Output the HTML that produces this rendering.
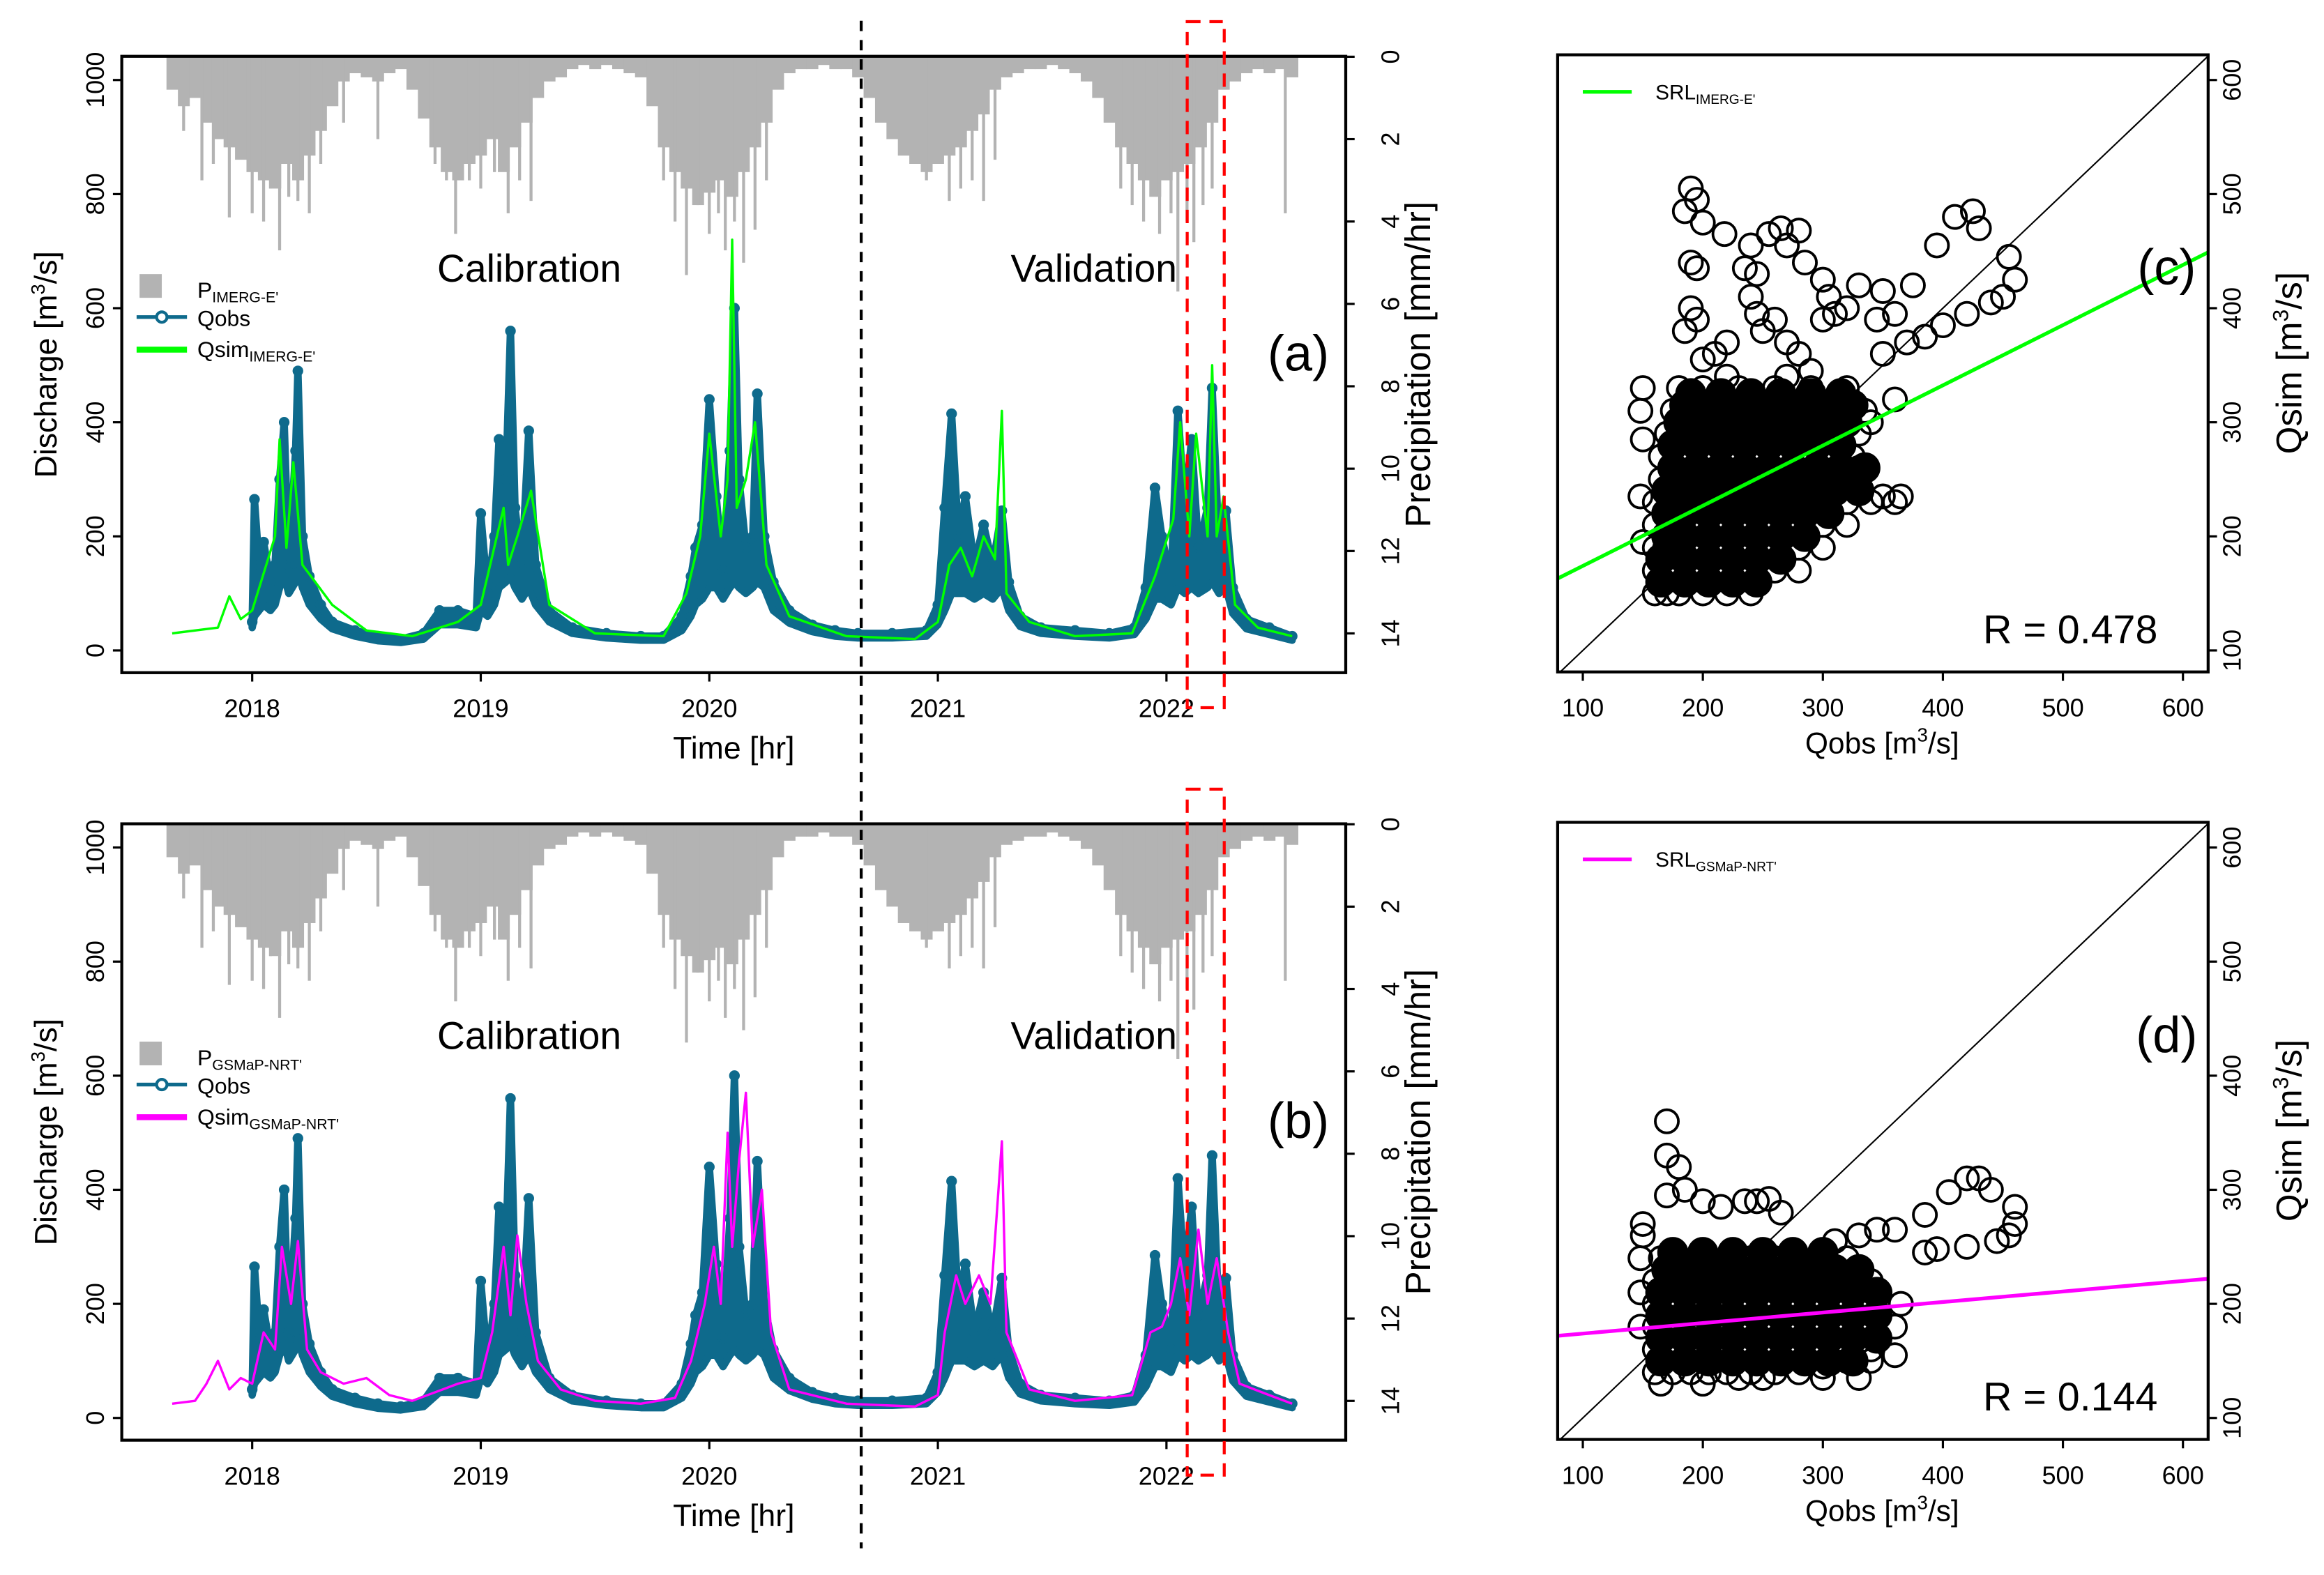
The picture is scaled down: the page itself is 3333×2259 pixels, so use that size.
<!DOCTYPE html>
<html><head><meta charset="utf-8"><style>
html,body{margin:0;padding:0;background:#fff}
svg{display:block;font-family:"Liberation Sans",sans-serif}
</style></head><body>
<svg id="fig" xmlns="http://www.w3.org/2000/svg" width="3333" height="2259" viewBox="0 0 1568 1063">
<rect width="1568" height="1063" fill="#fff"/>
<g id="layer"></g>
</svg>
<script>
// ---------- data ----------
const precipStart = 2017.65;
const precipStep = 0.05;
const precipBase = [0.8,1.2,1.0,1.6,2.0,2.2,2.5,
 2.8,3.0,3.2,2.6,3.0,2.4,1.8,1.2,0.6,0.4,
 0.5,0.6,0.4,0.3,0.8,
 1.5,2.2,2.8,3.0,2.6,2.4,2.0,2.8,2.2,1.6,1.0,
 0.6,0.5,0.3,0.2,0.3,0.2,0.3,0.4,0.5,
 1.2,2.2,2.8,3.2,3.6,3.3,3.0,3.4,2.8,2.2,1.6,0.8,
 0.4,0.3,0.3,0.2,0.3,0.3,0.5,
 1.0,1.6,2.0,2.4,2.6,2.8,2.6,2.4,2.2,1.8,1.4,0.8,
 0.5,0.4,0.3,0.3,0.2,0.3,0.4,0.6,
 1.0,1.6,2.2,2.6,3.0,3.4,3.0,2.8,2.6,2.2,1.6,0.8,
 0.6,0.4,0.3,0.4,0.3,0.5];
const spikeYears = [2017.7,2017.78,2017.83,2017.9,2018.0,2018.05,2018.08,2018.12,2018.16,2018.2,2018.25,2018.3,2018.4,2018.55,2018.8,2018.85,2018.89,2018.95,2019.0,2019.06,2019.12,2019.17,2019.22,2019.8,2019.85,2019.9,2019.95,2020.0,2020.04,2020.07,2020.11,2020.15,2020.2,2020.25,2020.95,2021.05,2021.1,2021.15,2021.2,2021.25,2021.8,2021.85,2021.9,2021.97,2022.02,2022.05,2022.09,2022.12,2022.16,2022.2,2022.52];
const spikeDepths = [1.8,3.0,2.6,3.9,3.8,4.0,3.2,4.7,3.4,3.5,3.8,2.6,1.6,2.0,2.6,3.0,4.3,3.0,3.2,2.8,3.8,3.0,3.5,3.0,4.0,5.3,3.6,4.3,3.8,4.7,4.0,5.0,4.2,3.0,3.0,3.5,3.2,3.0,3.5,2.5,3.2,3.6,4.0,4.3,3.8,5.7,4.0,4.5,3.6,3.2,3.8];

const obsYears = [2018.00,2018.01,2018.03,2018.05,2018.08,2018.10,2018.12,2018.14,2018.16,2018.19,2018.20,2018.22,2018.25,2018.30,2018.35,2018.45,2018.55,2018.65,2018.75,2018.82,2018.90,2018.98,2019.00,2019.03,2019.06,2019.08,2019.11,2019.13,2019.15,2019.18,2019.21,2019.24,2019.30,2019.40,2019.55,2019.70,2019.80,2019.88,2019.92,2019.94,2019.97,2020.00,2020.03,2020.06,2020.09,2020.11,2020.13,2020.16,2020.19,2020.21,2020.24,2020.28,2020.35,2020.45,2020.55,2020.65,2020.80,2020.95,2021.00,2021.03,2021.06,2021.09,2021.12,2021.16,2021.20,2021.24,2021.28,2021.31,2021.36,2021.45,2021.60,2021.75,2021.86,2021.91,2021.95,2021.98,2022.02,2022.05,2022.08,2022.11,2022.14,2022.18,2022.20,2022.23,2022.26,2022.29,2022.35,2022.45,2022.55];
const obsValues = [50,265,150,190,120,150,300,400,150,350,490,200,130,80,50,35,25,20,30,70,70,60,240,100,200,370,300,560,250,150,385,150,70,40,30,25,25,60,130,180,220,440,270,140,350,600,300,180,200,450,200,120,70,45,35,30,30,35,80,250,415,200,270,150,220,150,245,120,60,40,35,30,40,110,285,200,120,420,250,370,180,250,460,180,245,110,55,40,25];
const obsLow = [40,60,70,80,70,80,110,130,100,120,140,110,80,55,38,25,17,14,20,45,45,40,70,60,80,110,120,130,110,90,110,80,50,30,22,18,18,35,60,80,90,110,110,90,110,120,110,100,110,120,110,70,48,33,25,22,22,25,45,70,100,100,100,90,100,90,110,70,42,30,25,22,28,55,90,90,80,110,100,110,100,110,120,100,110,65,38,28,18];

const simAYears = [2017.65,2017.85,2017.9,2017.95,2018.0,2018.1,2018.12,2018.15,2018.18,2018.22,2018.35,2018.5,2018.7,2018.9,2019.0,2019.1,2019.12,2019.16,2019.22,2019.3,2019.5,2019.8,2019.9,2019.96,2020.0,2020.05,2020.08,2020.1,2020.12,2020.16,2020.2,2020.25,2020.35,2020.6,2020.9,2021.0,2021.05,2021.1,2021.15,2021.2,2021.25,2021.28,2021.3,2021.4,2021.6,2021.85,2021.95,2022.03,2022.06,2022.1,2022.13,2022.18,2022.2,2022.22,2022.25,2022.3,2022.4,2022.55];
const simAValues = [30,40,95,55,70,200,370,180,330,150,80,35,25,50,80,250,150,200,280,80,30,25,100,200,380,200,300,720,250,300,400,150,60,25,20,50,150,180,130,200,160,420,100,50,25,30,130,230,400,200,380,200,500,200,270,80,40,25];

const simBYears = [2017.65,2017.75,2017.8,2017.85,2017.9,2017.95,2018.0,2018.05,2018.1,2018.13,2018.17,2018.2,2018.24,2018.3,2018.4,2018.5,2018.6,2018.7,2018.8,2018.9,2019.0,2019.05,2019.1,2019.13,2019.16,2019.2,2019.25,2019.35,2019.5,2019.7,2019.85,2019.92,2019.98,2020.02,2020.05,2020.08,2020.1,2020.13,2020.16,2020.19,2020.23,2020.27,2020.35,2020.6,2020.9,2021.0,2021.03,2021.08,2021.12,2021.18,2021.23,2021.28,2021.3,2021.4,2021.6,2021.85,2021.93,2021.98,2022.02,2022.06,2022.1,2022.14,2022.18,2022.22,2022.27,2022.32,2022.45,2022.55];
const simBValues = [25,30,60,100,50,70,60,150,120,300,200,310,120,80,60,70,40,30,45,60,70,150,300,180,320,200,100,50,30,25,35,100,200,300,200,500,300,450,570,300,400,150,50,25,20,40,150,250,200,250,200,485,150,50,30,40,150,160,200,280,180,330,200,280,150,60,40,25];

const scatCObs = [160,170,180,200,220,240, 160,180,200,220,240,260,280, 160,180,200,220,240,260,280,300, 160,180,200,220,240,260,280,300,320, 160,180,200,220,240,260,280,300,320,340,360, 165,185,205,225,245,265,285,305,325, 165,185,205,225,245,265,285,305,325, 170,190,210,230,250,270,290,310,330, 175,195,215,235,255,275,295,315,335, 180,200,230,260,290,320,
 150,148,150,148,150,190,195,185,200,218,190,195,190,195,185,240,235,245,240,245,255,265,270,280,285,300,305,330,350,360,375,395,410,425,430,455,460,450,440,420,400,385,370,350,300,310,320,345,260,250,270,280,220,210,200,270,290,360,340,350,365,330,200,220];
const scatCSim = [150,150,150,150,150,150, 170,170,170,170,170,170,170, 190,190,190,190,190,190,190,190, 210,210,210,210,210,210,210,210,210, 230,230,230,230,230,230,230,230,230,230,230, 250,250,250,250,250,250,250,250,250, 270,270,270,270,270,270,270,270,270, 290,290,290,290,290,290,290,290,290, 310,310,310,310,310,310,310,310,310, 330,330,330,330,330,330,
 330,310,285,235,195,505,495,485,475,465,440,435,400,390,380,455,435,430,410,395,465,470,455,468,440,425,410,420,415,395,420,455,480,485,470,445,425,410,405,395,385,375,370,360,390,395,400,390,390,380,370,360,370,360,355,340,345,320,300,235,235,260,330,340];
const scatCCoreObs = [165,185,205,225,245, 165,185,205,225,245,265, 170,185,205,225,245,265,285, 170,185,205,225,245,265,285,305, 170,190,210,230,250,270,290,310,330, 175,195,215,235,255,275,295,315,335, 175,195,215,235,255,275,295,315, 180,200,220,240,260,280,300,320, 185,205,225,245,265,285,305,325, 190,215,240,265,290,315];
const scatCCoreSim = [160,160,160,160,160, 180,180,180,180,180,180, 200,200,200,200,200,200,200, 220,220,220,220,220,220,220,220, 240,240,240,240,240,240,240,240,240, 260,260,260,260,260,260,260,260,260, 280,280,280,280,280,280,280,280, 300,300,300,300,300,300,300,300, 315,315,315,315,315,315,315,315, 325,325,325,325,325,325];

const scatDObs = [160,175,190,205,220,240,260,280,300,320,340,360, 160,175,190,205,220,240,260,280,300,320,340, 160,175,190,205,220,240,260,280,300,320,340,360, 160,175,190,205,220,240,260,280,300,320,340,365, 160,175,190,205,220,240,260,280,300,320,340, 165,180,200,220,240,260,280,300,320,
 170,170,180,185,170,200,215,235,245,255,265,310,330,345,360,385,405,420,430,440,460,460,455,445,420,395,385,150,150,148,148,148,165,200,230,250,300,330];
const scatDSim = [140,140,140,140,140,140,140,140,145,150,150,155, 160,160,160,160,160,160,160,160,160,160,160, 180,180,180,180,180,180,180,180,180,180,180,180, 200,200,200,200,200,200,200,200,200,200,200,200, 220,220,220,220,220,220,220,220,220,220,220, 240,240,240,240,240,240,240,240,240,
 360,330,320,300,295,290,285,290,290,292,280,255,260,265,265,278,298,310,310,300,285,270,260,255,250,248,245,270,260,240,210,180,130,130,135,135,135,135];
const scatDCoreObs = [165,185,205,225,245,265,285,305,325, 165,185,205,225,245,265,285,305,325,345, 165,185,205,225,245,265,285,305,325,345, 165,185,205,225,245,265,285,305,325,345, 170,190,210,230,250,270,290,310,330, 175,200,225,250,275,300];
const scatDCoreSim = [150,150,150,150,150,150,150,150,150, 170,170,170,170,170,170,170,170,170,170, 190,190,190,190,190,190,190,190,190,190, 210,210,210,210,210,210,210,210,210,210, 230,230,230,230,230,230,230,230,230, 245,245,245,245,245,245];

const yearTicks = [2018,2019,2020,2021,2022];
const qTicks = [0,200,400,600,800,1000];
const pTicks = [0,2,4,6,8,10,12,14];
const scTicks = [100,200,300,400,500,600];
const fitC = [79, 163, 621, 449];
const fitD = [79, 172, 621, 222];

// ---------- helpers ----------
const NS = "http://www.w3.org/2000/svg";
const layer = document.getElementById('layer');
function mk(tag, attrs, parent){
  const e = document.createElementNS(NS, tag);
  for (const k in attrs) e.setAttribute(k, attrs[k]);
  (parent||layer).appendChild(e);
  return e;
}
const FONT = '"Liberation Sans", sans-serif';
const OBS = '#0e6a8c';

function tsPanel(off, simYears, simValues, simColor, subLabel, label){
  const L=82,R=908,T=38+off,B=454+off;
  const xs = yr => 170 + (yr-2018)*154.25;
  const yq = q => 439+off - q*0.385;
  const yp = p => 38.3+off + p*27.8;
  const g = mk('g', {});
  
  
  const pg = mk('g', {fill:'#b3b3b3', stroke:'none'}, g);
  
  
  precipBase.forEach((d,i)=>{
    const yr = precipStart + i*precipStep;
    const x0 = xs(yr - precipStep/2), x1 = xs(yr + precipStep/2);
    const r = mk('rect', {x:x0, y:T, width:x1-x0+0.3, height:yp(d)-T}, pg);
    
    
  });
  spikeYears.forEach((yr,i)=>{
    const r = mk('rect', {x:xs(yr)-1, y:T, width:2, height:yp(spikeDepths[i])-T}, pg);
    
    
  });
  const n = Math.min(obsYears.length, obsValues.length, obsLow.length);
  const up = [], lo = [];
  for (let i=0;i<n;i++){ up.push(xs(obsYears[i])+','+yq(obsValues[i])); lo.unshift(xs(obsYears[i])+','+yq(obsLow[i])); }
  const band = mk('polygon', {points:up.concat(lo).join(' '), fill:OBS, stroke:OBS, 'stroke-width':5, 'stroke-linejoin':'round'}, g);
  
  
  for (let i=0;i<n;i++){
    const c = mk('circle', {cx:xs(obsYears[i]), cy:yq(obsValues[i]), r:2.8, fill:'none', stroke:OBS, 'stroke-width':1.6}, g);
    
    
  }
  const ptsS = simYears.map((y,i)=>xs(y)+','+yq(simValues[i])).join(' ');
  const ps = mk('polyline', {points:ptsS, fill:'none', stroke:simColor, 'stroke-width':1.6, 'stroke-linejoin':'round'}, g);
  
  
  const fr = mk('rect', {x:L, y:T, width:R-L, height:B-T, fill:'none', stroke:'#000', 'stroke-width':2}, g);
  
  
  yearTicks.forEach(yr=>{
    const x = xs(yr);
    mk('line', {x1:x, x2:x, y1:B, y2:B+6, stroke:'#000', 'stroke-width':1.5}, g);
    const t = mk('text', {x:x, y:B+30, 'font-size':17, 'text-anchor':'middle', 'font-family':FONT}, g);
    t.textContent = yr;
    
    
  });
  qTicks.forEach(q=>{
    const y = yq(q);
    mk('line', {x1:L-6, x2:L, y1:y, y2:y, stroke:'#000', 'stroke-width':1.5}, g);
    const t = mk('text', {x:0, y:0, 'font-size':17, 'text-anchor':'middle', 'font-family':FONT, transform:`translate(${L-12},${y}) rotate(-90)`}, g);
    t.textContent = q;
    
    
  });
  pTicks.forEach(p=>{
    const y = yp(p);
    mk('line', {x1:R, x2:R+6, y1:y, y2:y, stroke:'#000', 'stroke-width':1.5}, g);
    const t = mk('text', {x:0, y:0, 'font-size':17, 'text-anchor':'middle', 'font-family':FONT, transform:`translate(${R+36},${y}) rotate(-90)`}, g);
    t.textContent = p;
    
    
  });
  let t = mk('text', {x:495, y:B+58, 'font-size':21, 'text-anchor':'middle', 'font-family':FONT}, g);
  t.textContent = 'Time [hr]';
  
  
  t = mk('text', {x:0, y:0, 'font-size':21, 'text-anchor':'middle', 'font-family':FONT, transform:`translate(38,${246+off}) rotate(-90)`}, g);
  t.innerHTML = 'Discharge [m<tspan font-size="13" dy="-8">3</tspan><tspan dy="8">/s]</tspan>';
  
  
  t = mk('text', {x:0, y:0, 'font-size':24, 'text-anchor':'middle', 'font-family':FONT, transform:`translate(965,${246+off}) rotate(-90)`}, g);
  t.textContent = 'Precipitation [mm/hr]';
  
  
  t = mk('text', {x:357, y:190+off, 'font-size':26, 'text-anchor':'middle', 'font-family':FONT}, g);
  t.textContent = 'Calibration';
  
  
  t = mk('text', {x:738, y:190+off, 'font-size':26, 'text-anchor':'middle', 'font-family':FONT}, g);
  t.textContent = 'Validation';
  
  
  t = mk('text', {x:876, y:250+off, 'font-size':34, 'text-anchor':'middle', 'font-family':FONT}, g);
  t.textContent = label;
  
  
  const lg = mk('g', {}, g);
  
  
  mk('rect', {x:94, y:185+off, width:15, height:16, fill:'#b3b3b3'}, lg);
  t = mk('text', {x:133, y:201+off, 'font-size':15, 'font-family':FONT}, lg);
  t.innerHTML = 'P<tspan font-size="10" dy="3">'+subLabel+'</tspan>';
  
  
  mk('line', {x1:92, x2:126, y1:214+off, y2:214+off, stroke:OBS, 'stroke-width':2.5}, lg);
  mk('circle', {cx:109, cy:214+off, r:3.5, fill:'#fff', stroke:OBS, 'stroke-width':2}, lg);
  t = mk('text', {x:133, y:220+off, 'font-size':15, 'font-family':FONT}, lg);
  t.textContent = 'Qobs';
  
  
  mk('line', {x1:92, x2:126, y1:236+off, y2:236+off, stroke:simColor, 'stroke-width':4}, lg);
  t = mk('text', {x:133, y:241+off, 'font-size':15, 'font-family':FONT}, lg);
  t.innerHTML = 'Qsim<tspan font-size="10" dy="3">'+subLabel+'</tspan>';
  
  
}

function scPanel(off, xo, ys, cxo, cys, fit, color, sub, rtxt, label){
  const L=1051,R=1490,T=37+off,B=453.5+off;
  const sx = q => 1068 + (q-100)*0.81;
  const sy = q => 439+off - (q-100)*0.77;
  const g = mk('g', {});
  
  
  const clipId = 'clip'+off;
  const cp = mk('clipPath', {id:clipId}, g);
  mk('rect', {x:L, y:T, width:R-L, height:B-T}, cp);
  const inner = mk('g', {'clip-path':`url(#${clipId})`}, g);
  mk('line', {x1:sx(79), y1:sy(79), x2:sx(622), y2:sy(622), stroke:'#000', 'stroke-width':1}, inner);
  const n = Math.min(xo.length, ys.length);
  for (let i=0;i<n;i++){
    const c = mk('circle', {cx:sx(xo[i]), cy:sy(ys[i]), r:7.8, fill:'none', stroke:'#000', 'stroke-width':1.8}, inner);
    
    
  }
  const m = Math.min(cxo.length, cys.length);
  for (let i=0;i<m;i++){
    const c = mk('circle', {cx:sx(cxo[i]), cy:sy(cys[i]), r:9.6, fill:'#000', stroke:'#000', 'stroke-width':1.8}, inner);
    
    
  }
  const fl = mk('line', {x1:sx(fit[0]), y1:sy(fit[1]), x2:sx(fit[2]), y2:sy(fit[3]), stroke:color, 'stroke-width':2.5}, inner);
  
  
  const fr = mk('rect', {x:L, y:T, width:R-L, height:B-T, fill:'none', stroke:'#000', 'stroke-width':2}, g);
  
  
  scTicks.forEach(q=>{
    mk('line', {x1:sx(q), x2:sx(q), y1:B, y2:B+6, stroke:'#000', 'stroke-width':1.5}, g);
    let t = mk('text', {x:sx(q), y:B+30, 'font-size':17, 'text-anchor':'middle', 'font-family':FONT}, g);
    t.textContent = q;
    
    
    mk('line', {x1:R, x2:R+6, y1:sy(q), y2:sy(q), stroke:'#000', 'stroke-width':1.5}, g);
    t = mk('text', {x:0, y:0, 'font-size':17, 'text-anchor':'middle', 'font-family':FONT, transform:`translate(${R+22},${sy(q)}) rotate(-90)`}, g);
    t.textContent = q;
    
    
  });
  let t = mk('text', {x:1270, y:B+55, 'font-size':20, 'text-anchor':'middle', 'font-family':FONT}, g);
  t.innerHTML = 'Qobs [m<tspan font-size="13" dy="-8">3</tspan><tspan dy="8">/s]</tspan>';
  
  
  t = mk('text', {x:0, y:0, 'font-size':24, 'text-anchor':'middle', 'font-family':FONT, transform:`translate(1553,${245+off}) rotate(-90)`}, g);
  t.innerHTML = 'Qsim [m<tspan font-size="15" dy="-9">3</tspan><tspan dy="9">/s]</tspan>';
  
  
  t = mk('text', {x:1397, y:434+off, 'font-size':27, 'text-anchor':'middle', 'font-family':FONT}, g);
  t.textContent = rtxt;
  
  
  t = mk('text', {x:1462, y:192+off, 'font-size':34, 'text-anchor':'middle', 'font-family':FONT}, g);
  t.textContent = label;
  
  
  mk('line', {x1:1068, x2:1101, y1:62+off, y2:62+off, stroke:color, 'stroke-width':2.5}, g);
  t = mk('text', {x:1117, y:67+off, 'font-size':14, 'font-family':FONT}, g);
  t.innerHTML = 'SRL<tspan font-size="9" dy="3">'+sub+'</tspan>';
  
  
}

tsPanel(0, simAYears, simAValues, '#00ff00', "IMERG-E'", '(a)');
tsPanel(518, simBYears, simBValues, '#ff00ff', "GSMaP-NRT'", '(b)');
scPanel(0, scatCObs, scatCSim, scatCCoreObs, scatCCoreSim, fitC, '#00ff00', "IMERG-E'", 'R = 0.478', '(c)');
scPanel(518, scatDObs, scatDSim, scatDCoreObs, scatDCoreSim, fitD, '#ff00ff', "GSMaP-NRT'", 'R = 0.144', '(d)');

const dv = mk('line', {x1:581, x2:581, y1:14, y2:1045, stroke:'#000', 'stroke-width':2, 'stroke-dasharray':'7,6'});


[0,518].forEach(o=>{
  const r = mk('rect', {x:801, y:14.6+o, width:25, height:463, fill:'none', stroke:'#ff0000', 'stroke-width':2, 'stroke-dasharray':'9,6'});
  
  
});
</script>
</body></html>
